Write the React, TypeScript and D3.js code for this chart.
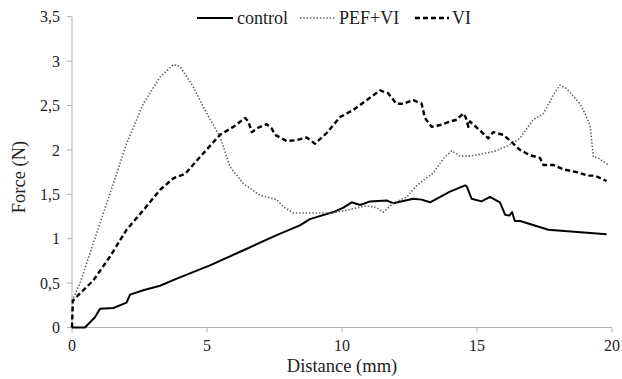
import React from "react";
import * as d3 from "d3";

const xTicks = [0, 5, 10, 15, 20];
const yTicks = [0, 0.5, 1, 1.5, 2, 2.5, 3, 3.5];
const yTickLabels = ["0", "0,5", "1", "1,5", "2", "2,5", "3", "3,5"];

const controlX = [0, 0.48, 0.85, 1.04, 1.53, 2.02, 2.15, 2.64, 3.26, 3.88, 5.11, 6.35, 7.58, 8.44, 8.81, 9.68, 10.05, 10.36, 10.67, 11.04, 11.65, 11.9, 12.64, 12.95, 13.26, 14.0, 14.56, 14.62, 14.8, 15.17, 15.48, 15.85, 16.04, 16.2, 16.3, 16.4, 16.6, 17.64, 19.8];
const controlY = [0, 0, 0.115, 0.21, 0.22, 0.28, 0.37, 0.42, 0.47, 0.55, 0.7, 0.87, 1.04, 1.15, 1.22, 1.3, 1.35, 1.41, 1.38, 1.42, 1.43, 1.4, 1.45, 1.44, 1.41, 1.53, 1.6, 1.59, 1.45, 1.42, 1.47, 1.41, 1.27, 1.26, 1.3, 1.2, 1.2, 1.1, 1.05];

const pefX = [0, 0.3, 0.79, 1.41, 2.02, 2.64, 3.26, 3.75, 4.0, 4.49, 4.99, 5.48, 5.85, 6.35, 6.96, 7.58, 7.83, 8.2, 9.06, 9.68, 10.3, 10.91, 11.28, 11.53, 11.9, 12.4, 12.77, 13.38, 13.75, 14.06, 14.37, 14.74, 15.1, 15.6, 16.1, 16.59, 17.08, 17.46, 17.83, 18.07, 18.32, 18.81, 19.0, 19.19, 19.31, 19.49, 19.86];
const pefY = [0.3, 0.5, 0.95, 1.51, 2.07, 2.52, 2.82, 2.96, 2.94, 2.71, 2.41, 2.15, 1.81, 1.62, 1.49, 1.44, 1.36, 1.29, 1.29, 1.29, 1.33, 1.37, 1.35, 1.3, 1.4, 1.47, 1.6, 1.74, 1.9, 1.99, 1.93, 1.93, 1.95, 1.98, 2.04, 2.13, 2.34, 2.41, 2.62, 2.73, 2.69, 2.52, 2.41, 2.27, 1.92, 1.91, 1.83];

const viX = [0, 0.03, 0.3, 0.79, 1.41, 2.02, 2.64, 3.26, 3.75, 4.19, 4.74, 5.48, 5.98, 6.41, 6.53, 6.66, 6.9, 7.21, 7.4, 7.52, 7.95, 8.32, 8.69, 9.0, 9.43, 9.93, 10.42, 10.91, 11.41, 11.7, 12.02, 12.27, 12.64, 12.95, 13.07, 13.32, 13.63, 14.0, 14.25, 14.49, 14.59, 14.68, 14.74, 15.11, 15.42, 15.6, 15.97, 16.28, 16.59, 16.96, 17.33, 17.46, 17.83, 18.2, 18.69, 19.12, 19.37, 19.8];
const viY = [0, 0.3, 0.385, 0.53, 0.8, 1.1, 1.32, 1.55, 1.68, 1.73, 1.92, 2.17, 2.26, 2.36, 2.32, 2.2, 2.25, 2.29, 2.24, 2.17, 2.1, 2.11, 2.14, 2.07, 2.19, 2.37, 2.45, 2.56, 2.67, 2.64, 2.52, 2.52, 2.56, 2.52, 2.36, 2.26, 2.28, 2.32, 2.34, 2.41, 2.36, 2.26, 2.32, 2.22, 2.13, 2.2, 2.17, 2.09, 2.0, 1.94, 1.91, 1.83, 1.83, 1.78, 1.75, 1.71, 1.71, 1.65];

const seriesNames = ["control", "PEF+VI", "VI"];

export default function App() {
  const W = 622, H = 379;
  const x = d3.scaleLinear().domain([0, 20]).range([72, 612]);
  const y = d3.scaleLinear().domain([0, 3.5]).range([327.5, 16.7]);
  const line = d3.line<[number, number]>().x((d) => x(d[0])).y((d) => y(d[1]));
  const zip = (a: number[], b: number[]) => a.map((v, i) => [v, b[i]] as [number, number]);
  const font = "'Liberation Serif', 'Times New Roman', serif";
  const axisColor = "#b0b0b0";
  const styles = [
    { stroke: "#000", width: 2, dash: undefined as string | undefined },
    { stroke: "#666", width: 1.6, dash: "1.5 1.8" },
    { stroke: "#000", width: 2.4, dash: "5 3" },
  ];
  const data = [zip(controlX, controlY), zip(pefX, pefY), zip(viX, viY)];
  const legend = [
    { x1: 197, x2: 233, tx: 237 },
    { x1: 300, x2: 335, tx: 339 },
    { x1: 415, x2: 449, tx: 452 },
  ];
  return (
    <svg width={W} height={H} style={{ position: "absolute", left: 0, top: 0, background: "#fff" }} fontFamily={font}>
      <rect width={W} height={H} fill="#fff" />
      <line x1={72} x2={72} y1={y(3.5)} y2={y(0)} stroke={axisColor} strokeWidth={1} />
      <line x1={72} x2={612} y1={y(0)} y2={y(0)} stroke={axisColor} strokeWidth={1} />
      {yTicks.map((t, i) => (
        <g key={"y" + t}>
          <line x1={67} x2={72} y1={y(t)} y2={y(t)} stroke={axisColor} />
          <text x={60} y={y(t)} dy="0.35em" textAnchor="end" fontSize={16} fill="#222">
            {yTickLabels[i]}
          </text>
        </g>
      ))}
      {xTicks.map((t) => (
        <g key={"x" + t}>
          <line x1={x(t)} x2={x(t)} y1={y(0)} y2={y(0) + 5} stroke={axisColor} />
          <text x={x(t)} y={351} textAnchor="middle" fontSize={16} fill="#222">
            {t}
          </text>
        </g>
      ))}
      {data.map((d, i) => (
        <path
          key={seriesNames[i]}
          d={line(d) || ""}
          fill="none"
          stroke={styles[i].stroke}
          strokeWidth={styles[i].width}
          strokeDasharray={styles[i].dash}
          strokeLinejoin="round"
        />
      ))}
      {seriesNames.map((n, i) => (
        <g key={"lg" + n}>
          <line x1={legend[i].x1} x2={legend[i].x2} y1={18} y2={18} stroke={styles[i].stroke} strokeWidth={styles[i].width} strokeDasharray={styles[i].dash} />
          <text x={legend[i].tx} y={24} fontSize={18} fill="#222">
            {n}
          </text>
        </g>
      ))}
      <text x={342} y={372} textAnchor="middle" fontSize={18.5} fill="#222">
        Distance (mm)
      </text>
      <text transform="translate(25,177) rotate(-90)" textAnchor="middle" fontSize={18.5} fill="#222">
        Force (N)
      </text>
    </svg>
  );
}
